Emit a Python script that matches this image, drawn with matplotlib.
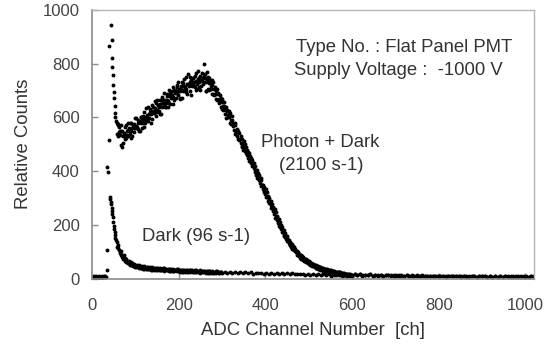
import numpy as np
import matplotlib
matplotlib.use("Agg")
import matplotlib.pyplot as plt

plt.rcParams['font.family'] = ['Liberation Sans', 'DejaVu Sans']

# Photon + Dark spectrum (counts)
photon_base_ch = np.arange(0, 34, 3)
photon_base = [3, 5, 2, 4, 3, 6, 2, 4, 3, 5, 4, 6]

photon_spike_ch = [35, 37, 39, 40, 43, 45, 46, 47, 48, 49, 50, 51, 52, 53, 54, 55]
photon_spike = [417, 397, 515, 866, 944, 889, 823, 789, 757, 720, 693, 674,
                641, 618, 600, 585]

# main hump, three interleaved channel sets (57+3k, 58+3k, 59+3k)
photon_main_a = [
    580, 530, 565, 498, 550, 505, 563, 522, 551, 580,
    539, 578, 531, 574, 562, 596, 555, 584, 548, 602,
    581, 620, 579, 608, 637, 596, 625, 595, 640, 625,
    652, 621, 645, 614, 663, 677, 646, 665, 639, 678,
    652, 691, 675, 714, 663, 701, 714, 682, 705, 673,
    731, 699, 742, 695, 723, 760, 697, 739, 721, 748,
    715, 767, 704, 745, 756, 717, 745, 800, 762, 700,
    752, 703, 732, 686, 733, 685, 697, 664, 690, 655,
    640, 667, 629, 635, 597, 629, 600, 616, 577, 582,
    575, 540, 550, 550, 516, 521, 491, 506, 481, 489,
    461, 471, 439, 445, 418, 430, 403, 405, 375, 379,
    373, 345, 349, 325, 332, 305, 304, 280, 287, 263,
    252, 255, 226, 230, 223, 196, 196, 172, 178, 158,
    159, 140, 144, 124, 127, 109, 115, 101, 104, 87,
    83, 87, 74, 79, 65, 71, 61, 65, 53, 57,
    55, 46, 52, 40, 45, 35, 42, 34, 39, 29,
    34, 26, 34, 26, 31, 23, 27, 20, 26, 20,
    24, 18, 23, 15, 19, 14, 18, 13, 16, 12,
    13, 11,
]
photon_main_b = [
    540, 570, 535, 573, 490, 540, 518, 572, 531, 560,
    579, 523, 571, 544, 597, 561, 590, 549, 603, 562,
    606, 565, 634, 598, 587, 631, 580, 645, 615, 660,
    607, 666, 625, 664, 613, 662, 691, 640, 689, 638,
    702, 651, 700, 649, 703, 671, 719, 732, 670, 718,
    671, 729, 697, 750, 688, 725, 752, 684, 746, 718,
    755, 702, 774, 715, 701, 767, 723, 753, 697, 770,
    707, 748, 707, 741, 688, 715, 667, 704, 660, 683,
    673, 632, 659, 612, 637, 602, 625, 581, 605, 567,
    553, 573, 530, 545, 541, 504, 518, 478, 501, 469,
    479, 447, 457, 429, 442, 412, 418, 385, 393, 367,
    357, 365, 332, 341, 316, 323, 290, 298, 274, 278,
    267, 239, 246, 219, 205, 211, 183, 190, 163, 168,
    147, 152, 132, 136, 116, 120, 105, 111, 94, 97,
    92, 78, 83, 68, 74, 61, 69, 57, 61, 49,
    48, 53, 43, 49, 39, 44, 33, 39, 30, 36,
    28, 33, 25, 32, 25, 29, 22, 28, 21, 25,
    19, 23, 17, 20, 14, 18, 13, 18, 12, 15,
    12,
]
photon_main_c = [
    575, 547, 548, 548, 531, 542, 536, 533, 552, 551,
    548, 562, 570, 561, 569, 563, 580, 587, 579, 590,
    598, 590, 601, 594, 611, 619, 612, 621, 618, 636,
    628, 645, 638, 650, 640, 655, 663, 655, 666, 662,
    680, 673, 685, 677, 690, 700, 690, 703, 699, 707,
    701, 716, 713, 707, 724, 718, 731, 718, 729, 733,
    734, 726, 742, 732, 741, 739, 731, 747, 733, 741,
    729, 734, 717, 720, 706, 707, 688, 687, 669, 670,
    659, 644, 644, 628, 625, 610, 611, 591, 589, 574,
    580, 545, 557, 520, 518, 531, 494, 511, 476, 489,
    459, 467, 437, 449, 422, 432, 398, 403, 375, 385,
    375, 347, 350, 323, 334, 303, 308, 280, 289, 262,
    251, 257, 228, 234, 220, 193, 199, 174, 180, 155,
    158, 139, 144, 126, 129, 111, 116, 98, 103, 89,
    83, 88, 72, 77, 64, 72, 60, 66, 52, 58,
    55, 46, 52, 40, 45, 36, 43, 33, 38, 29,
    34, 27, 31, 24, 30, 24, 29, 21, 25, 19,
    23, 18, 22, 16, 19, 13, 17, 12, 16, 11,
    14,
]

photon_tail_ch = np.arange(606, 1021, 6)
photon_tail = [
    15, 12, 16, 11, 14, 12, 15, 10, 13, 11,
    13, 10, 12, 14, 9, 12, 10, 13, 9, 11,
    12, 9, 11, 8, 12, 9, 11, 8, 10, 11,
    9, 11, 10, 8, 10, 7, 10, 9, 11, 8,
    10, 7, 9, 10, 7, 9, 10, 7, 9, 8,
    9, 7, 10, 7, 9, 6, 9, 7, 9, 8,
    6, 9, 8, 8, 6, 9, 8, 6, 8, 9,
]

# Dark spectrum
dark_base_ch = np.arange(1, 35, 3)
dark_base = [6, 8, 5, 9, 6, 8, 5, 9, 6, 8, 10, 30]

dark_spike_ch = [35, 41, 42, 43, 44, 45, 46, 47, 48, 49, 50, 51, 52, 53, 54, 55]
dark_spike = [105, 303, 296, 285, 278, 262, 253, 240, 229, 212, 197, 185,
              173, 162, 152, 142]

# decay, two interleaved channel sets (57+3k, 58+3k)
dark_main_a = [
    135, 112, 108, 89, 88, 74, 76, 63, 66, 57,
    61, 50, 56, 47, 52, 43, 48, 40, 46, 39,
    44, 37, 43, 35, 41, 34, 40, 33, 39, 35,
    40, 31, 38, 33, 37, 30, 38, 31, 36, 30,
    35, 29, 34, 28, 33, 30, 35, 27, 32, 29,
    33, 26, 31, 27, 32, 25, 30, 28, 31, 26,
    30, 24, 29, 25, 31, 23, 28, 26, 29, 24,
    28, 22, 27, 24, 26, 21, 28, 23, 26, 22,
    26, 22,
]
dark_main_b = [
    118, 126, 96, 103, 80, 87, 66, 74, 58, 66,
    52, 60, 47, 55, 44, 51, 41, 49, 38, 47,
    37, 45, 35, 43, 34, 42, 33, 41, 32, 40,
    32, 39, 31, 40, 30, 38, 29, 37, 30, 36,
    29, 35, 28, 34, 27, 33, 28, 34, 26, 32,
    26, 32, 25, 31, 24, 30, 25, 31, 23, 29,
    24, 30, 23, 29, 22, 28, 23, 29, 22, 27,
    22, 28, 21, 27, 20, 26, 21, 27, 20, 26,
    23,
]

dark_tail_ch = np.arange(306, 1021, 6)
dark_tail = [
    26, 21, 25, 22, 24, 20, 25, 21, 23, 20,
    23, 18, 22, 19, 21, 17, 22, 18, 21, 17,
    21, 16, 20, 17, 19, 15, 20, 16, 18, 15,
    18, 14, 17, 13, 16, 12, 17, 13, 15, 12,
    15, 11, 14, 12, 14, 10, 13, 11, 13, 10,
    16, 13, 15, 12, 14, 13, 15, 11, 14, 12,
    14, 11, 13, 12, 13, 10, 13, 11, 12, 10,
    12, 10, 12, 9, 11, 10, 12, 9, 11, 9,
    11, 9, 10, 8, 11, 9, 10, 8, 10, 9,
    10, 8, 9, 7, 9, 8, 10, 7, 9, 8,
    9, 7, 8, 7, 9, 6, 8, 7, 9, 7,
    8, 6, 7, 7, 8, 6, 7, 6, 8, 7,
]

photon_ch = np.concatenate([photon_base_ch, photon_spike_ch,
                            57 + 3 * np.arange(len(photon_main_a)),
                            58 + 3 * np.arange(len(photon_main_b)),
                            59 + 3 * np.arange(len(photon_main_c)),
                            photon_tail_ch])
photon = np.concatenate([photon_base, photon_spike, photon_main_a,
                         photon_main_b, photon_main_c, photon_tail])
dark_ch = np.concatenate([dark_base_ch, dark_spike_ch,
                          57 + 3 * np.arange(len(dark_main_a)),
                          58 + 3 * np.arange(len(dark_main_b)),
                          dark_tail_ch])
dark = np.concatenate([dark_base, dark_spike, dark_main_a, dark_main_b, dark_tail])

fig = plt.figure(figsize=(5.5, 3.52), dpi=100)
ax = fig.add_axes([0.1673, 0.2088, 0.8036, 0.7628])

ax.plot(dark_ch, dark, 'o', color='black', markersize=2.8, markeredgewidth=0)
ax.plot(photon_ch, photon, 'o', color='black', markersize=2.8, markeredgewidth=0)

ax.set_xlim(0, 1020)
ax.set_ylim(0, 1000)
ax.set_xticks(range(0, 1001, 200))
ax.set_yticks(range(0, 1001, 200))

for side in ['left', 'bottom']:
    ax.spines[side].set_color('#8a8a8a')
    ax.spines[side].set_linewidth(1.2)
for side in ['top', 'right']:
    ax.spines[side].set_color('#b5b5b5')
    ax.spines[side].set_linewidth(1.0)

ax.tick_params(axis='both', direction='in', length=4, width=1, color='#8a8a8a',
               labelsize=12, labelcolor='#444444')
ax.tick_params(axis='x', pad=14)
ax.tick_params(axis='y', pad=9)

ax.set_xlabel('ADC Channel Number  [ch]', fontsize=13.3, color='#333333')
ax.set_ylabel('Relative Counts', fontsize=13.3, color='#333333')
ax.xaxis.set_label_coords(0.5, -0.163)
ax.yaxis.set_label_coords(-0.136, 0.5)

txt = dict(fontsize=13.3, color='#333333')
ax.text(470, 862, 'Type No. : Flat Panel PMT', ha='left', va='center', **txt)
ax.text(465, 773, 'Supply Voltage :  -1000 V', ha='left', va='center', **txt)
ax.text(527, 505, 'Photon + Dark', ha='center', va='center', **txt)
ax.text(528, 422, '(2100 s-1)', ha='center', va='center', **txt)
ax.text(240, 158, 'Dark (96 s-1)', ha='center', va='center', **txt)

fig.savefig('out.png', dpi=100)
